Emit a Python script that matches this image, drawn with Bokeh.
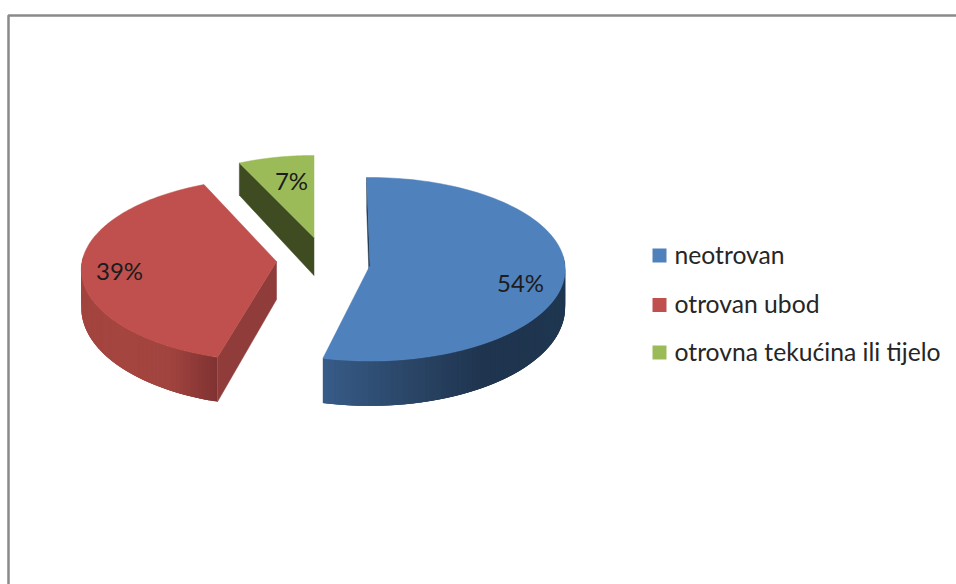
import math
from bokeh.plotting import figure
from bokeh.embed import file_html
from bokeh.resources import INLINE
from bokeh.core.properties import value

categories = ["neotrovan", "otrovan ubod", "otrovna tekućina ili tijelo"]
shares = [54, 39, 7]
labels = ["54%", "39%", "7%"]

top_colors = ["#4f81bd", "#c0504d", "#9bbb59"]
face_colors = ["#1d3349", "#8f3c3a", "#3f4c22"]
side_stops = [["#375c88", "#2b4769", "#1f344e", "#1f3650"],
              ["#a3443f", "#a5453f", "#a0433f", "#7f3231"],
              ["#3f4c22", "#3f4c22"]]
vertices = [(369.5, 265), (276, 261), (313.5, 237)]
arc_dy = [0, 4.5, 0]
angle_shift = [-1.0, 2.5, 0.0]
radius_scale = [1.0, 1.0, 0.93]
label_pos = [(520, 282), (119, 270), (291, 180)]
legend_y = [255, 304.5, 352]
legend_text_y = [253.5, 302.5, 351]

A, B, P = 195.0, 91.6, 0.041
W, H = 956, 584


def project(vx, vy, theta, r=1.0, dy=0.0):
    t = math.radians(theta)
    u, v = r * math.sin(t), r * math.cos(t)
    s = 1 / (1 + P * v)
    depth = 38 * (1 - 0.18 * v)
    return vx + A * u * s, vy + dy - B * v * s, depth


def hex2rgb(h):
    return [int(h[i:i + 2], 16) for i in (1, 3, 5)]


def ramp(stops, f):
    pos = min(max(f, 0), 1) * (len(stops) - 1)
    i = min(int(pos), len(stops) - 2)
    a, b = hex2rgb(stops[i]), hex2rgb(stops[i + 1])
    k = pos - i
    return "#%02x%02x%02x" % tuple(round(a[c] + (b[c] - a[c]) * k) for c in range(3))


p = figure(width=W, height=H, x_range=(0, W), y_range=(H, 0),
           output_backend="svg", toolbar_location=None, min_border=0,
           x_axis_location=None, y_axis_location=None,
           background_fill_color="white", border_fill_color="white")
p.grid.visible = False
p.outline_line_color = None

# chart frame
p.line([8, 8, W], [H, 15, 15], line_color="#8a8a8a", line_width=2.5)

total = sum(shares)
cum = 0
for i, share in enumerate(shares):
    sweep = 360 * share / total
    a0 = cum * 360 / total + angle_shift[i]
    cum += share
    vx, vy = vertices[i]
    rs = radius_scale[i]
    n = 120
    thetas = [a0 + sweep * k / n for k in range(n + 1)]
    pts = [project(vx, vy, t, rs, arc_dy[i]) for t in thetas]

    # outer wall, as overlapping strips shaded along x
    front = [k for k in range(n) if math.cos(math.radians(thetas[k])) < 0.12
             and math.cos(math.radians(thetas[k + 1])) < 0.12]
    if front:
        xs_all = [pts[k][0] for k in front] + [pts[front[-1] + 1][0]]
        lo, hi = min(xs_all), max(xs_all)
        px, py, col = [], [], []
        for k in front:
            q0 = pts[k]
            q1 = pts[min(k + 3, front[-1] + 1)]
            px.append([q0[0], q1[0], q1[0], q0[0]])
            py.append([q0[1], q1[1], q1[1] + q1[2], q0[1] + q0[2]])
            col.append(ramp(side_stops[i], ((q0[0] + pts[k + 1][0]) / 2 - lo) / (hi - lo)))
        p.patches(px, py, fill_color=col, line_color=None)

    # inner face on the slice's leading edge
    ox, oy, od = pts[0]
    vd = project(vx, vy, a0, 0)[2]
    p.patch([vx, ox, ox, vx], [vy, oy, oy + od, vy + vd],
            fill_color=face_colors[i], line_color=face_colors[i], line_width=0.5)

    # top surface
    p.patch([vx] + [q[0] for q in pts], [vy] + [q[1] for q in pts],
            fill_color=top_colors[i], line_color=top_colors[i], line_width=0.5)

# percentage labels
p.text([q[0] for q in label_pos], [q[1] for q in label_pos], text=labels,
       text_font=value("Lato"), text_font_size="24px", text_color="#1c1c1c",
       text_align="center", text_baseline="middle")

# legend
p.rect([659] * 3, legend_y, width=14, height=14, fill_color=top_colors,
       line_color=top_colors, line_width=0)
p.text([674] * 3, legend_text_y, text=categories,
       text_font=value("Lato"), text_font_size="24.7px", text_color="#262626",
       text_align="left", text_baseline="middle")

open("out.html", "w").write(file_html(p, INLINE))
